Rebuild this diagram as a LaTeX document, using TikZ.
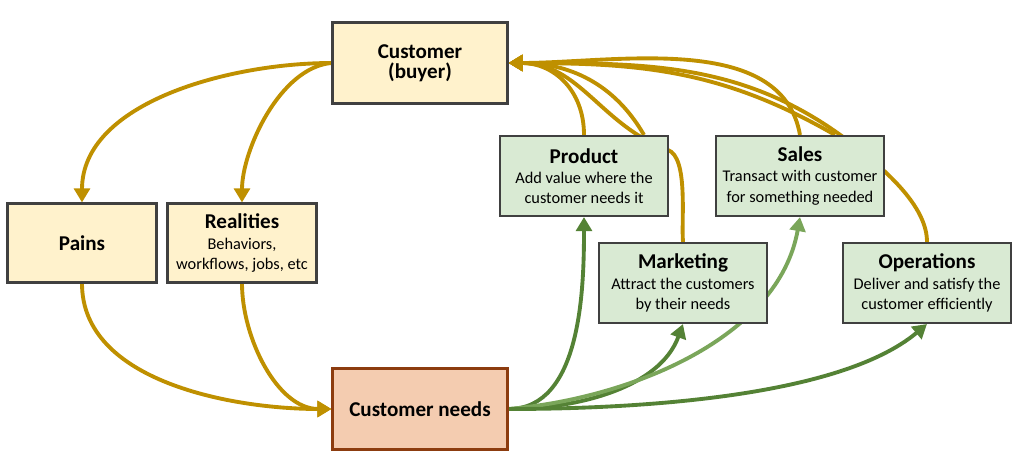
\documentclass[tikz,border=0pt]{standalone}
\usepackage{fontspec}
\setmainfont{Carlito}
\usetikzlibrary{arrows.meta,positioning,backgrounds}
\definecolor{goldline}{RGB}{191,144,0}
\definecolor{greenline}{RGB}{84,130,53}
\definecolor{lightgreenline}{RGB}{122,166,90}
\definecolor{yellowfill}{RGB}{255,242,204}
\definecolor{greenfill}{RGB}{217,234,211}
\definecolor{needsfill}{RGB}{244,204,176}
\definecolor{needsdraw}{RGB}{140,60,15}
\definecolor{boxdraw}{RGB}{64,64,64}

\begin{document}
\begin{tikzpicture}[x=0.02cm,y=-0.02cm]
        % Box styles
        \tikzstyle{box}=[draw=boxdraw, line width=1.2pt, align=center, inner sep=2pt, font=\fontsize{9.3}{11.5}\selectfont]
        \tikzstyle{yellowbox}=[box, fill=yellowfill]
        \tikzstyle{greenbox}=[box, fill=greenfill, minimum width=3.36cm, minimum height=1.6cm]
        \tikzstyle{goldarrow}=[-{Triangle[length=8pt,width=9pt]}, line width=2.2pt, goldline]
        \tikzstyle{greenarrow}=[-{Triangle[length=8pt,width=9pt]}, line width=2.2pt, greenline]

        \useasboundingbox (0,0) rectangle (1024,462);

        % Boxes
        \node (customer)[yellowbox, minimum width=3.5cm, minimum height=1.62cm] at (420,63) {\textbf{\large Customer}\\\textbf{\large (buyer)}};
        \node (pains)[yellowbox, minimum width=2.98cm, minimum height=1.58cm] at (82,243) {\textbf{\large Pains}};
        \node (realities)[yellowbox, minimum width=2.98cm, minimum height=1.58cm] at (242,243) {\textbf{\large Realities}\\Behaviors,\\workflows, jobs, etc};
        \node (needs)[box, draw=needsdraw, fill=needsfill, minimum width=3.5cm, minimum height=1.62cm] at (420,409) {\textbf{\large Customer needs}};
        \node (product)[greenbox] at (584,176) {\textbf{\large Product}\\Add value where the\\customer needs it};
        \node (sales)[greenbox] at (800,176) {\textbf{\large Sales}\\Transact with customer\\for something needed};
        \node (marketing)[greenbox] at (683,283) {\textbf{\large Marketing}\\Attract the customers\\by their needs};
        \node (operations)[greenbox] at (927,283) {\textbf{\large Operations}\\Deliver and satisfy the\\customer efficiently};

        \begin{scope}[on background layer]
        % Customer to pains and realities
        \draw[goldarrow] (customer.west) to[out=180, in=90, looseness=0.9] (pains.north);
        \draw[goldarrow] (customer.west) to[out=185, in=90, looseness=0.8] (realities.north);
        \draw[goldarrow] (pains.south) to[out=-90, in=180, looseness=0.9] (needs.west);
        \draw[goldarrow] (realities.south) to[out=-90, in=180, looseness=0.9] (needs.west);

        % Back to the customer
        \draw[goldarrow] (product.north) to[out=90, in=0, looseness=1.1] (customer.east);
        \draw[goldarrow] ([xshift=1.2cm]product.north) to[out=120, in=0] (customer.east);
        \draw[goldarrow] (marketing.north) to[out=95, in=-20, looseness=0.6] (668,150) to[out=160, in=0] (customer.east);
        \draw[goldarrow] (sales.north) to[out=100, in=0, looseness=0.9] (customer.east);
        \draw[goldarrow] ([xshift=0.7cm]sales.north) to[out=150, in=0] (customer.east);
        \draw[goldarrow] (operations.north) to[out=90, in=-40, looseness=0.8] (866,155) to[out=140, in=0] (customer.east);

        % Customer needs to the functions
        \draw[greenarrow] (needs.east) to[out=0, in=-90, looseness=0.9] (product.south);
        \draw[greenarrow] (needs.east) to[out=0, in=-110, looseness=0.9] (marketing.south);
        \draw[greenarrow, lightgreenline] (needs.east) to[out=5, in=-100, looseness=0.9] (sales.south);
        \draw[greenarrow] (needs.east) to[out=0, in=-140, looseness=0.7] (operations.south);
        \end{scope}
    \end{tikzpicture}
\end{document}
